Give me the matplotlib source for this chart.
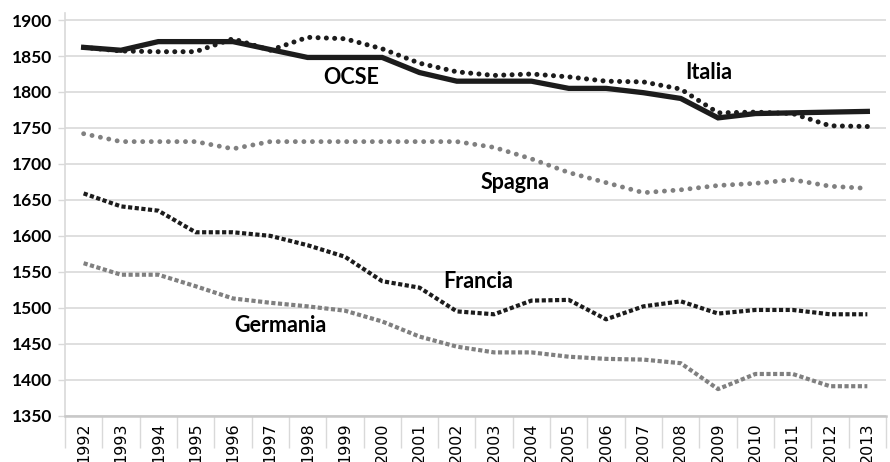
"""Ore lavorate annue: OCSE, Italia, Spagna, Francia, Germania (1992-2013)."""

import matplotlib
matplotlib.use("Agg")
import matplotlib.pyplot as plt
from matplotlib.ticker import FixedLocator, NullFormatter

years = list(range(1992, 2014))

ocse = [1862, 1858, 1870, 1870, 1870, 1859, 1848, 1848, 1848, 1827, 1815,
        1815, 1815, 1805, 1805, 1799, 1791, 1764, 1770, 1771, 1772, 1773]
italia = [1862, 1857, 1856, 1856, 1874, 1858, 1876, 1874, 1860, 1840, 1828,
          1823, 1825, 1821, 1815, 1814, 1804, 1771, 1772, 1770, 1753, 1752]
spagna = [1742, 1731, 1731, 1731, 1721, 1731, 1731, 1731, 1731, 1731, 1731,
          1723, 1707, 1688, 1674, 1660, 1664, 1670, 1673, 1678, 1669, 1666]
francia = [1659, 1641, 1635, 1605, 1605, 1600, 1587, 1571, 1537, 1528, 1495,
           1491, 1510, 1511, 1484, 1502, 1509, 1492, 1497, 1497, 1491, 1491]
germania = [1562, 1546, 1546, 1530, 1513, 1507, 1502, 1496, 1481, 1460, 1446,
            1438, 1438, 1432, 1429, 1428, 1423, 1387, 1408, 1408, 1391, 1391]

labels = ["OCSE", "Italia", "Spagna", "Francia", "Germania"]
y_ticks = list(range(1350, 1901, 50))

BLACK = "#1c1c1c"
GREY = "#808080"
GRID = "#d9d9d9"

plt.rcParams["font.family"] = ["Lato", "DejaVu Sans"]

fig = plt.figure(figsize=(8.9, 4.62), dpi=100)
ax = fig.add_axes([0.073, 0.1002, 0.9225, 0.872])

x = list(range(len(years)))

ax.plot(x, italia, color=BLACK, lw=3.6, linestyle=(0, (0.01, 1.65)),
        dash_capstyle="round", zorder=3)
ax.plot(x, ocse, color=BLACK, lw=3.8, solid_joinstyle="miter", zorder=4)
ax.plot(x, spagna, color=GREY, lw=3.5, linestyle=(0, (0.01, 1.75)),
        dash_capstyle="round", zorder=3)
ax.plot(x, francia, color=BLACK, lw=3.0, linestyle=(0, (1.0, 0.6)),
        dash_capstyle="butt", zorder=3)
ax.plot(x, germania, color=GREY, lw=3.0, linestyle=(0, (1.0, 0.6)),
        dash_capstyle="butt", zorder=3)

# series labels placed beside their lines
label_pos = [(7.17, 1820), (16.76, 1827), (11.56, 1674),
             (10.57, 1536), (5.26, 1475)]
for txt, (lx, ly) in zip(labels, label_pos):
    ax.text(lx, ly, txt, ha="center", va="center", fontsize=15.5,
            fontweight="bold", color="black", zorder=5)

ax.set_xlim(-0.5, len(years) - 0.5)
ax.set_ylim(1350, 1910)

ax.set_yticks(y_ticks)
ax.set_yticklabels([str(v) for v in y_ticks], fontsize=12.5,
                   fontweight="bold", color="black")
ax.tick_params(axis="y", length=5, width=1, color=GRID, pad=4)
ax.yaxis.grid(True, color=GRID, lw=1.2)
ax.set_axisbelow(True)

ax.set_xticks(x)
ax.set_xticklabels([str(yy) for yy in years], rotation=90, fontsize=11.5,
                   family="DejaVu Sans", va="top", color="black")
ax.tick_params(axis="x", which="major", length=0, pad=5)
ax.xaxis.set_minor_locator(FixedLocator([i - 0.5 for i in range(len(years) + 1)]))
ax.xaxis.set_minor_formatter(NullFormatter())
ax.tick_params(axis="x", which="minor", length=23, width=1, color=GRID)

for side in ["top", "right"]:
    ax.spines[side].set_visible(False)
ax.spines["left"].set_color(GRID)
ax.spines["left"].set_linewidth(1.2)
ax.spines["bottom"].set_color("#c8c8c8")
ax.spines["bottom"].set_linewidth(1.8)

fig.savefig("out.png", dpi=100)
